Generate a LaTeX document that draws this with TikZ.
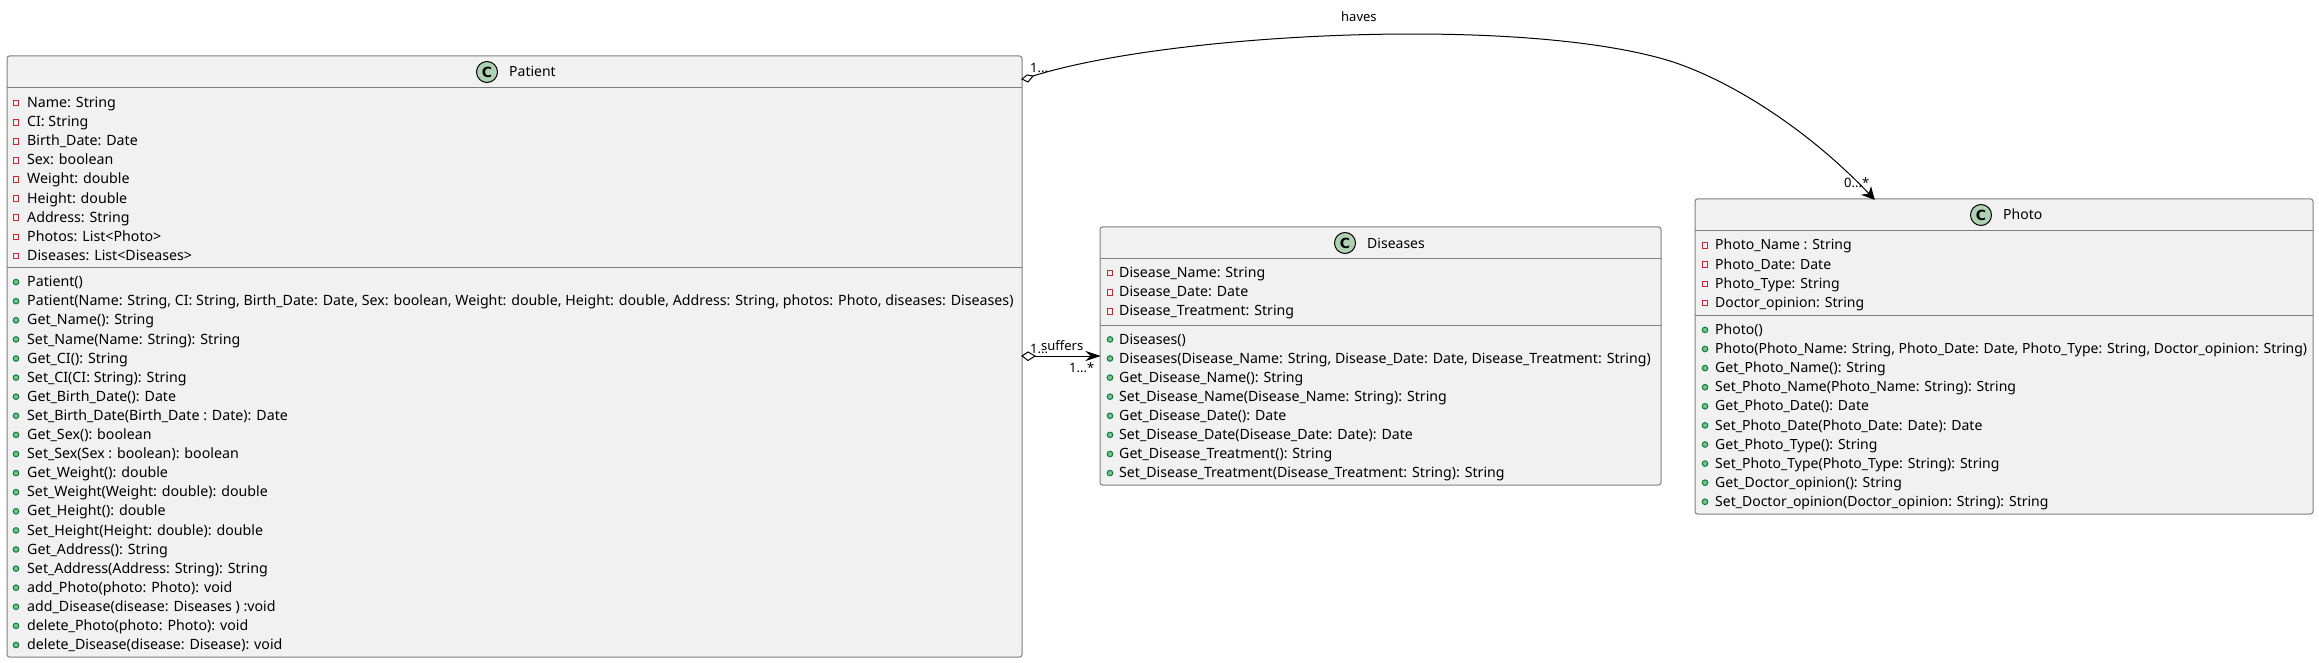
\documentclass[tikz,border=0pt]{standalone}
\usepackage{fontspec}
\setmainfont{Noto Sans}
\newfontfamily\cfont{DejaVu Sans}
\usetikzlibrary{arrows.meta}
\definecolor{boxfill}{HTML}{F1F1F1}
\definecolor{boxline}{HTML}{7F7F7F}
\definecolor{privred}{HTML}{C82930}
\definecolor{pubfill}{HTML}{84BE84}
\definecolor{publine}{HTML}{038048}
\definecolor{cfill}{HTML}{ADD1B2}
\newcommand{\rowfs}{14}
\tikzset{
  x=1pt,y=-1pt,
  classbox/.style={draw=boxline,fill=boxfill,line width=1pt,rounded corners=2.5pt},
  sep/.style={draw=boxline,line width=1pt},
  rowtext/.style={anchor=base west,inner sep=0pt,font=\fontsize{\rowfs}{16}\selectfont},
  title/.style={anchor=base west,inner sep=0pt,font=\fontsize{14}{16}\selectfont},
  lbl/.style={anchor=base west,inner sep=0pt,font=\fontsize{13}{15}\selectfont},
  badge/.style={circle,draw=black,fill=cfill,line width=1pt,minimum size=21pt,inner sep=0pt,font=\cfont\bfseries\fontsize{14}{16}\selectfont},
  privicon/.style={draw=privred,line width=1pt,fill=none},
  pubicon/.style={draw=publine,fill=pubfill,line width=1pt},
  link/.style={draw=black,line width=1pt},
  head/.style={draw=black,line width=1pt,fill=black,line join=miter},
  diam/.style={draw=black,line width=1pt,fill=white},
}
% #1 name prefix, #2 y of first baseline, #3 step, #4 text x, #5 icon x, #6 icon type, #7 list
\newcommand{\rows}[7]{%
  \foreach \t [count=\i from 0] in {#7}{%
    \pgfmathsetmacro{\yy}{#2+#3*\i}%
    \node[rowtext] (#1\i) at (#4,\yy) {\t};
    \ifnum#6=0
      \draw[privicon] (#5-2.8,\yy-7.2) rectangle ++(5.6,5.6);
    \else
      \draw[pubicon] (#5,\yy-4.6) circle (2.8);
    \fi
  }%
}
\begin{document}
\begin{tikzpicture}
\useasboundingbox (0,0) rectangle (2319,663);
% Patient
\draw[classbox] (7,56) rectangle (1022,657);
\draw[sep] (7,88) -- (1022,88);
\draw[sep] (7,267.5) -- (1022,267.5);
\node[badge] (patientC) at (487,72) {C};
\node[title] (patientT) at (509,77) {Patient};
\renewcommand{\rowfs}{14.2}
\rows{pa}{107.6}{19.1}{27}{16}{0}{{Name: String},{CI: String},{Birth\_Date: Date},{Sex: boolean},{Weight: double},{Height: double},{Address: String},{Photos: List<Photo>},{Diseases: List<Diseases>}}
\rows{pm}{286.7}{19.1}{27}{16}{1}{{Patient()},{Patient(Name: String, CI: String, Birth\_Date: Date, Sex: boolean, Weight: double, Height: double, Address: String, photos: Photo, diseases: Diseases)},{Get\_Name(): String},{Set\_Name(Name: String): String},{Get\_CI(): String},{Set\_CI(CI: String): String},{Get\_Birth\_Date(): Date},{Set\_Birth\_Date(Birth\_Date : Date): Date},{Get\_Sex(): boolean},{Set\_Sex(Sex : boolean): boolean},{Get\_Weight(): double},{Set\_Weight(Weight: double): double},{Get\_Height(): double},{Set\_Height(Height: double): double},{Get\_Address(): String},{Set\_Address(Address: String): String},{add\_Photo(photo: Photo): void},{add\_Disease(disease: Diseases ) :void},{delete\_Photo(photo: Photo): void},{delete\_Disease(disease: Disease): void}}
% Diseases
\draw[classbox] (1100,227) rectangle (1661,485);
\draw[sep] (1100,259) -- (1661,259);
\draw[sep] (1100,325) -- (1661,325);
\node[badge] (disC) at (1345,243) {C};
\node[title] (disT) at (1367,248) {Diseases};
\renewcommand{\rowfs}{14.14}
\rows{da}{277.5}{19.1}{1119}{1110}{0}{{Disease\_Name: String},{Disease\_Date: Date},{Disease\_Treatment: String}}
\rows{dm}{344}{19.1}{1119}{1110}{1}{{Diseases()},{Diseases(Disease\_Name: String, Disease\_Date: Date, Disease\_Treatment: String)},{Get\_Disease\_Name(): String},{Set\_Disease\_Name(Disease\_Name: String): String},{Get\_Disease\_Date(): Date},{Set\_Disease\_Date(Disease\_Date: Date): Date},{Get\_Disease\_Treatment(): String},{Set\_Disease\_Treatment(Disease\_Treatment: String): String}}
% Photo
\draw[classbox] (1695,199) rectangle (2313,514);
\draw[sep] (1695,231) -- (2313,231);
\draw[sep] (1695,315) -- (2313,315);
\node[badge] (phoC) at (1981,215) {C};
\node[title] (phoT) at (2003,220) {Photo};
\renewcommand{\rowfs}{14}
\rows{fa}{250}{19.1}{1715}{1705}{0}{{Photo\_Name : String},{Photo\_Date: Date},{Photo\_Type: String},{Doctor\_opinion: String}}
\rows{fm}{334.5}{19.1}{1715}{1705}{1}{{Photo()},{Photo(Photo\_Name: String, Photo\_Date: Date, Photo\_Type: String, Doctor\_opinion: String)},{Get\_Photo\_Name(): String},{Set\_Photo\_Name(Photo\_Name: String): String},{Get\_Photo\_Date(): Date},{Set\_Photo\_Date(Photo\_Date: Date): Date},{Get\_Photo\_Type(): String},{Set\_Photo\_Type(Photo\_Type: String): String},{Get\_Doctor\_opinion(): String},{Set\_Doctor\_opinion(Doctor\_opinion: String): String}}
% connectors
\coordinate (hs) at (1033,76);
\coordinate (hm) at (1670,61);
\coordinate (he) at (1874,199);
\coordinate (ss) at (1035,356);
\coordinate (se) at (1099,356);
\draw[link] (hs) .. controls (1170,33) and (1520,15) .. (hm) .. controls (1730,80) and (1810,130) .. (he);
\draw[diam] (1022,79) -- (1027,75) -- (hs) -- (1028,82) -- cycle;
\draw[head] (1863,195) -- (he) -- (1871,188) -- (1869,194) -- cycle;
\draw[link] (ss) -- (se);
\draw[diam] (1022,356) -- (1028,352) -- (ss) -- (1028,360.5) -- cycle;
\draw[head] (1087,352) -- (se) -- (1087,360) -- (1091,356) -- cycle;
\node[lbl] (haves) at (1341,22) {haves};
\node[lbl] (h1) at (1030,73) {1...};
\node[lbl] (h2) at (1844,188) {0...*};
\node[lbl] (suffers) at (1041,350) {suffers};
\node[lbl] (s1) at (1030,353) {1...};
\node[lbl] (s2) at (1069,372) {1...*};
\end{tikzpicture}
\end{document}
